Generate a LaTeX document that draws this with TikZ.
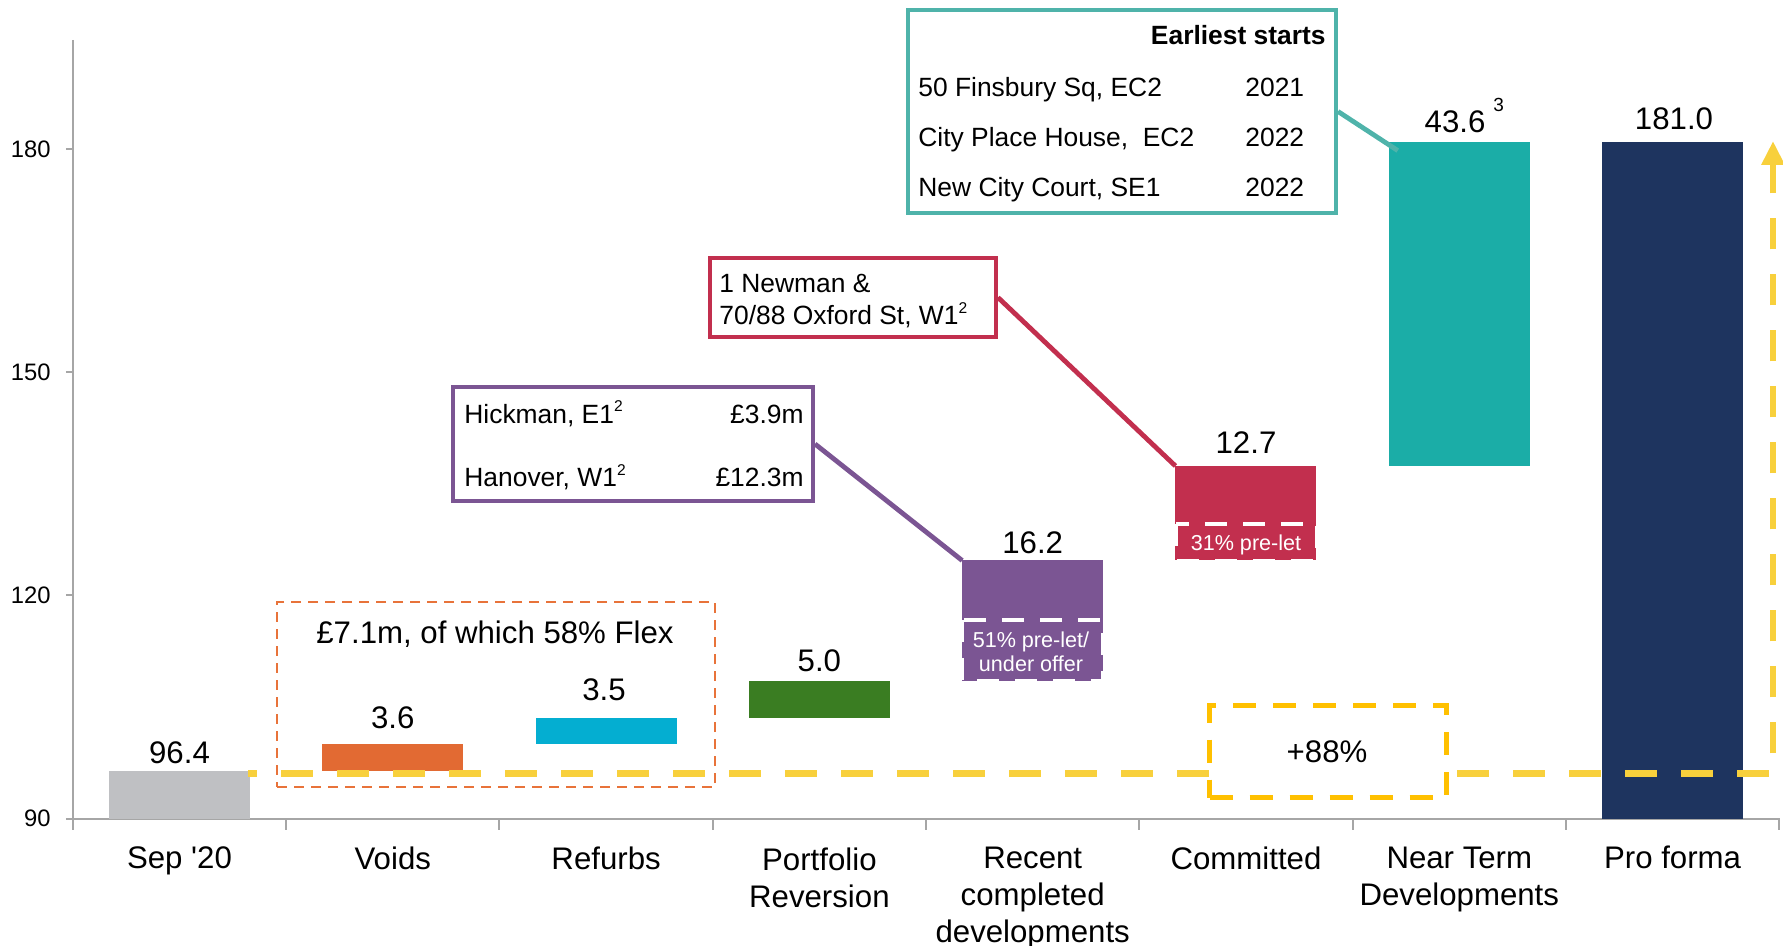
\documentclass[tikz,border=0pt]{standalone}
\usepackage{fontspec}
\setmainfont{Liberation Sans}
\usetikzlibrary{arrows.meta}
\definecolor{axisgray}{HTML}{A6A6A6}
\definecolor{sepgray}{HTML}{BFC0C3}
\definecolor{voidsor}{HTML}{E26A33}
\definecolor{refcyan}{HTML}{04AED1}
\definecolor{portgreen}{HTML}{3A7D22}
\definecolor{recpurple}{HTML}{7B5593}
\definecolor{comcrimson}{HTML}{C22F4E}
\definecolor{nearteal}{HTML}{1BADA7}
\definecolor{pronavy}{HTML}{1E345F}
\definecolor{tealbord}{HTML}{4FB3AA}
\definecolor{linyellow}{HTML}{F8D03C}
\definecolor{goldbox}{HTML}{FFC000}
\definecolor{flexor}{HTML}{E8733A}
\newcommand{\vy}[1]{(818.7-((#1)-90)*7.441)}
\newcommand{\bigf}{\fontsize{15.6}{18.5}\selectfont}
\newcommand{\boxf}{\fontsize{13.2}{15.8}\selectfont}
\newcommand{\tickf}{\fontsize{11.9}{14}\selectfont}
\newcommand{\smallf}{\fontsize{10.8}{12}\selectfont}
\newcommand{\supf}{\fontsize{9.5}{11}\selectfont}
\newcommand{\mysup}[1]{\raisebox{0.42em}{\fontsize{7.8}{8}\selectfont #1}}
\newcommand{\wbar}[5]{%
  \fill[#4] ({72.8+213.3*(#1+0.5)-70.5},{\vy{#2}}) rectangle ({72.8+213.3*(#1+0.5)+70.5},{\vy{#3}});
  \coordinate (#5) at ({72.8+213.3*(#1+0.5)-70.5},{\vy{#3}});}
\tikzset{
  axisline/.style={draw=axisgray, line width=1pt},
  ticklabel/.style={anchor=east, inner sep=0pt, font=\tickf},
  catlabel/.style={anchor=north, align=center, inner sep=0pt, font=\bigf},
  vallabel/.style={anchor=base, inner sep=0pt, font=\bigf},
  btext/.style={inner sep=0pt, font=\boxf},
  prelet/.style={draw=white, line width=2pt, dash pattern=on 11pt off 8pt},
  calloutline/.style={line width=2.4pt},
  yline/.style={draw=linyellow, line width=3.3pt, dash pattern=on 15.8pt off 12.2pt, dash phase=11.5pt, -{Triangle[length=12pt,width=11pt]}},
}
\begin{document}
\begin{tikzpicture}[x=0.5pt,y=-0.5pt]
\useasboundingbox (0,0) rectangle (1783,946);
% axes
\draw[axisline] (72.8,40) -- (72.8,818.7) -- (1779.5,818.7);
\foreach \v in {90,120,150,180}{
  \draw[axisline] (65.8,{\vy{\v}}) -- (72.8,{\vy{\v}});
  \node[ticklabel] (tick\v) at (51,{\vy{\v}}) {\v};
}
\foreach \i in {0,...,8}{
  \draw[axisline] ({72.8+213.3*\i},818.7) -- ++(0,11);
}
% bars
\wbar{0}{90}{96.4}{sepgray}{sepTL}
\wbar{1}{96.4}{100}{voidsor}{voidsTL}
\wbar{2}{100}{103.5}{refcyan}{refTL}
\wbar{3}{103.5}{108.5}{portgreen}{portTL}
\wbar{4}{108.5}{124.7}{recpurple}{recentTL}
\wbar{5}{124.7}{137.4}{comcrimson}{comTL}
\wbar{6}{137.4}{181}{nearteal}{nearTL}
\wbar{7}{90}{181}{pronavy}{proTL}
% category labels
\node[catlabel] (c0) at (179.5,846) {Sep \textquotesingle20};
\node[catlabel] (c1) at (392.8,846) {Voids};
\node[catlabel] (c2) at (606.1,846) {Refurbs};
\node[catlabel] (c3) at (819.4,847) {Portfolio\\Reversion};
\node[catlabel] (c4) at (1032.7,847) {Recent\\completed\\developments};
\node[catlabel] (c5) at (1246,846) {Committed};
\node[catlabel] (c6) at (1459.3,847) {Near Term\\Developments};
\node[catlabel] (c7) at (1672.6,846) {Pro forma};
% value labels
\node[vallabel] (v0) at (179.5,763) {96.4};
\node[vallabel] (v1) at (392.8,728) {3.6};
\node[vallabel] (v2) at (604,700) {3.5};
\node[vallabel] (v3) at (819.4,671) {5.0};
\node[vallabel] (v4) at (1032.7,553) {16.2};
\node[vallabel] (v5) at (1246,454) {12.7};
\node[vallabel] (v6) at (1455,133) {43.6};
\node[anchor=base west, inner sep=0pt, font=\supf] (v6sup) at (1493,112) {3};
\node[vallabel] (v7) at (1674,130) {181.0};
% orange dashed group box
\node[draw=flexor, line width=1pt, dash pattern=on 5pt off 3.5pt, minimum width=219pt, minimum height=92.5pt, inner sep=0pt] (flexbox) at (496,694.5) {};
\node[vallabel] (flextext) at (495,643) {£7.1m, of which 58\% Flex};
% yellow growth line
\draw[yline] (248,773.3) -- (1773,773.3) -- (1773,141);
\node[draw=goldbox, fill=white, line width=2.5pt, dash pattern=on 11.5pt off 8.5pt, minimum width=118.5pt, minimum height=46pt, inner sep=0pt] (growbox) at (1328,751.5) {};
\node[vallabel] (growtext) at (1327,762) {+88\%};
% pre-let overlays
\draw[prelet] (962,620) rectangle (1103,681);
\node[anchor=north, align=center, inner sep=0pt, font=\smallf, text=white] (recentlet) at (1031,631) {51\% pre-let/\\under offer};
\draw[prelet] (1175.5,524) rectangle (1316.5,560.5);
\node[anchor=base, inner sep=0pt, font=\smallf, text=white] (comlet) at (1246,550) {31\% pre-let};
% callout boxes
\node[draw=tealbord, fill=white, line width=2.2pt, minimum width=213.8pt, minimum height=101.3pt, inner sep=0pt] (tealbox) at (1122,111.5) {};
\node[btext, anchor=base east, font=\boxf\bfseries] (tealtitle) at (1326,45) {Earliest starts};
\node[btext, anchor=base west] (t1) at (918,97) {50 Finsbury Sq, EC2};
\node[btext, anchor=base west] (t2) at (918,147) {City Place House, \ EC2};
\node[btext, anchor=base west] (t3) at (918,197) {New City Court, SE1};
\node[btext, anchor=base west] (y1) at (1245,97) {2021};
\node[btext, anchor=base west] (y2) at (1245,147) {2022};
\node[btext, anchor=base west] (y3) at (1245,197) {2022};
\node[draw=comcrimson, fill=white, line width=2.2pt, minimum width=142.8pt, minimum height=39.3pt, inner sep=0pt] (crimbox) at (853,297.5) {};
\node[btext, anchor=base west] (n1) at (719,292.5) {1 Newman \&};
\node[btext, anchor=base west] (n2) at (719,324.5) {70/88 Oxford St, W1\mysup{2}};
\node[draw=recpurple, fill=white, line width=2.2pt, minimum width=179.8pt, minimum height=56.8pt, inner sep=0pt] (purpbox) at (633,444) {};
\node[btext, anchor=base west] (h1) at (464,423) {Hickman, E1\mysup{2}};
\node[btext, anchor=base east] (h1v) at (804,423) {£3.9m};
\node[btext, anchor=base west] (h2) at (464,487) {Hanover, W1\mysup{2}};
\node[btext, anchor=base east] (h2v) at (804,487) {£12.3m};
% connectors
\draw[calloutline, draw=recpurple] (purpbox.east) -- (recentTL);
\draw[calloutline, draw=comcrimson] (crimbox.east) -- (comTL);
\draw[calloutline, draw=tealbord] (tealbox.east) -- ([shift={(9,9)}]nearTL);
\end{tikzpicture}
\end{document}
